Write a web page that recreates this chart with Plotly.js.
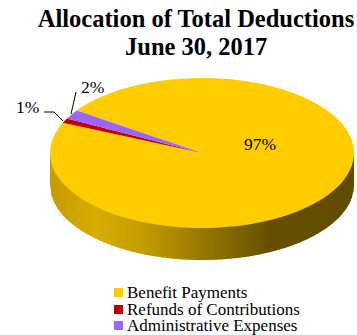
<!DOCTYPE html>
<html>
<head>
<meta charset="utf-8">
<script src="https://cdn.plot.ly/plotly-3.0.1.min.js"></script>
<style>html,body{margin:0;padding:0;background:#fff}#chart{width:357px;height:335px}</style>
</head>
<body>
<div id="chart"></div>
<script>
const categories = ['Benefit Payments', 'Refunds of Contributions', 'Administrative Expenses'];
const values = [97, 1, 2];
const percentLabels = ['97%', '1%', '2%'];
const sliceColors = ['#FFCC00', '#C00000', '#9966FF'];
const titleLines = ['Allocation of Total Deductions', 'June 30, 2017'];

const FONT = '"Liberation Serif", "Times New Roman", serif';
const W = 357, H = 335;

// Tilted disc geometry, in pixels
const cx = 202, cy = 153, rx = 152, ry = 75, depth = 32;

// Shading of the rim, left to right
const rimStops = [[0, [196, 157, 0]], [0.15, [216, 172, 0]], [0.3, [196, 157, 0]], [0.5, [150, 120, 0]], [0.72, [102, 80, 0]], [1, [96, 75, 0]]];

function rimColor(t) {
  for (let i = 1; i < rimStops.length; i++) {
    if (t <= rimStops[i][0]) {
      const [a, ca] = rimStops[i - 1], [b, cb] = rimStops[i];
      const f = (t - a) / (b - a);
      return 'rgb(' + ca.map((c, k) => Math.round(c + (cb[k] - c) * f)).join(',') + ')';
    }
  }
  return 'rgb(96,75,0)';
}

const shapes = [];
// Rim of the disc, built from narrow vertical strips
for (let x = cx - rx; x < cx + rx; x += 1.5) {
  const yAt = v => cy + ry * Math.sqrt(Math.max(0, 1 - Math.pow((v - cx) / rx, 2)));
  const x2 = Math.min(x + 2, cx + rx);
  const col = rimColor((x - cx + rx) / (2 * rx));
  shapes.push({
    type: 'path', xref: 'x', yref: 'y', layer: 'below',
    path: `M${x},${yAt(x) - 2} L${x2},${yAt(x2) - 2} L${x2},${yAt(x2) + depth} L${x},${yAt(x) + depth} Z`,
    fillcolor: col, line: {width: 0}
  });
}

// Leader lines for the two small slices
const leaders = [
  [[44, 112], [54, 112], [63, 121]],
  [[76, 92], [71, 114]]
];
leaders.forEach(pts => {
  shapes.push({
    type: 'path', xref: 'x', yref: 'y',
    path: 'M' + pts.map(p => p.join(',')).join(' L'),
    line: {color: '#000', width: 1}, fillcolor: 'rgba(0,0,0,0)'
  });
});

// Legend swatches
const legendX = 114, legendY = [292.5, 309.5, 325.5];
categories.forEach((c, i) => {
  shapes.push({
    type: 'rect', xref: 'x', yref: 'y',
    x0: legendX, x1: legendX + 9, y0: legendY[i] - 4.5, y1: legendY[i] + 4.5,
    fillcolor: sliceColors[i], line: {width: 0}
  });
});

const note = (x, y, text, size, anchor) => ({
  x, y, xref: 'x', yref: 'y', text, showarrow: false, xanchor: anchor || 'center', yanchor: 'middle',
  font: {family: FONT, size: size || 17.5, color: '#000'}
});

const annotations = [
  note(196, 46, '<b>' + titleLines[1] + '</b>', 24.5),
  note(260, 144, percentLabels[0]),
  note(27, 107, percentLabels[1]),
  note(92, 87, percentLabels[2])
].concat(categories.map((c, i) => note(125, legendY[i], c, 17, 'left')));

const data = [{
  type: 'pie',
  labels: categories,
  values: values,
  sort: false,
  direction: 'clockwise',
  rotation: -55.5,
  marker: {colors: sliceColors, line: {width: 0}},
  textinfo: 'none',
  hoverinfo: 'label+percent',
  showlegend: false,
  domain: {x: [(cx - rx) / W, (cx + rx) / W], y: [0, 1]}
}];

const layout = {
  width: W, height: H,
  margin: {l: 0, r: 0, t: 0, b: 0},
  paper_bgcolor: '#fff', plot_bgcolor: '#fff',
  title: {
    text: '<b>' + titleLines[0] + '</b>',
    font: {family: FONT, size: 24.5, color: '#000'},
    x: 196 / W, xanchor: 'center', y: 1 - 18 / H, yanchor: 'middle'
  },
  xaxis: {range: [0, W], visible: false, fixedrange: true},
  yaxis: {range: [H, 0], visible: false, fixedrange: true},
  shapes, annotations, showlegend: false
};

Plotly.newPlot('chart', data, layout, {displayModeBar: false, staticPlot: true}).then(gd => {
  // Flatten the circular pie into the tilted disc
  const s = ry / rx;
  const tx = 0, ty = cy - (H / 2) * s;
  gd.querySelectorAll('.pielayer').forEach(el => {
    el.setAttribute('transform', `translate(${tx},${ty}) scale(1,${s})`);
  });
});
</script>
</body>
</html>
